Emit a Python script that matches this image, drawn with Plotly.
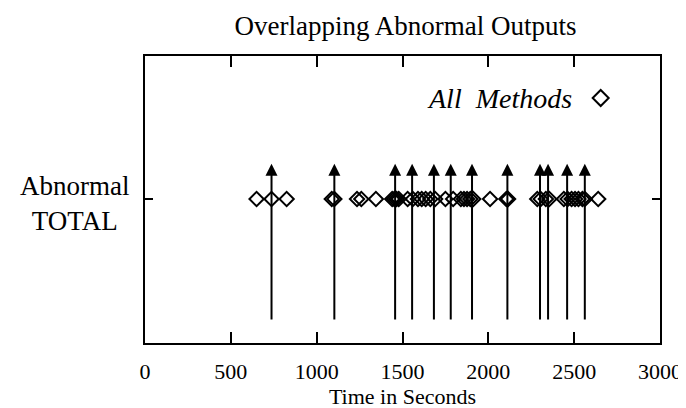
import plotly.graph_objects as go

# Data
diamond_times = [650, 737, 825, 1088, 1103, 1235, 1260, 1345,
                 1440, 1452, 1465, 1478, 1530, 1560, 1590, 1612, 1635, 1662, 1690,
                 1750, 1795, 1840, 1858, 1876, 1895, 1912, 2010, 2105, 2115,
                 2285, 2305, 2335, 2355, 2440, 2462, 2485, 2505, 2525, 2548, 2562, 2640]
diamond_level = 1
arrow_times = [737, 1103, 1457, 1556, 1683, 1781, 1905, 2111, 2301, 2348, 2459, 2562]
arrow_base = 0
arrow_tip = 1.29
x_ticks = [0, 500, 1000, 1500, 2000, 2500, 3000]
title_text = "Overlapping Abnormal Outputs"
x_title = "Time in Seconds"
y_label = "Abnormal<br>TOTAL"
legend_label = "All Methods"

FONT = "Liberation Serif"
L, R, T, B = 137, 28, 48, 73
W, H = 686, 408
PW, PH = W - L - R, H - T - B

fig = go.Figure()
fig.add_trace(go.Scatter(
    x=diamond_times, y=[diamond_level] * len(diamond_times),
    mode="markers",
    marker=dict(symbol="diamond-open", size=11, color="black", line=dict(width=2, color="black")),
    showlegend=False, hoverinfo="skip"))

for t in arrow_times:
    fig.add_annotation(x=t, y=arrow_tip, ax=t, ay=arrow_base, xref="x", yref="y",
                       axref="x", ayref="y", text="", showarrow=True,
                       arrowhead=2, arrowsize=1.2, arrowwidth=2, arrowcolor="black",
                       standoff=0, startstandoff=0)

# y-axis label
fig.add_annotation(x=(66 - L) / PW, y=diamond_level, xref="paper", yref="y", xanchor="center",
                   yshift=-4, text=y_label, showarrow=False, align="center",
                   font=dict(family=FONT, size=27, color="black"))

# legend text + key
fig.add_annotation(x=(571 - L) / PW, y=(H - B - 90) / PH, xref="paper", yref="paper",
                   xanchor="right", yanchor="middle",
                   text="<i>" + legend_label.replace(" ", "&#160;&#160;") + "</i>",
                   showarrow=False, font=dict(family=FONT, size=28, color="black"))
fig.add_shape(type="path", xref="paper", yref="paper",
              xsizemode="pixel", ysizemode="pixel",
              xanchor=(598 - L) / PW, yanchor=(H - B - 90) / PH,
              path="M -8 0 L 0 8 L 8 0 L 0 -8 Z",
              line=dict(color="black", width=2))

fig.update_layout(
    width=W, height=H,
    margin=dict(l=L, r=R, t=T, b=B),
    paper_bgcolor="white", plot_bgcolor="white",
    font=dict(family=FONT, size=22, color="black"),
    title=dict(text=title_text, x=(L + W - R) / 2 / W, xanchor="center",
               y=1 - 18 / H, yanchor="middle", font=dict(family=FONT, size=27)),
    xaxis=dict(range=[0, 3000], tickvals=x_ticks, ticks="inside", ticklen=11,
               tickwidth=2, tickcolor="black", showline=True, linewidth=2,
               linecolor="black", mirror="ticks", showgrid=False, zeroline=False,
               title=dict(text=x_title, standoff=0, font=dict(family=FONT, size=22)),
               ticklabelstandoff=8, tickfont=dict(family=FONT, size=22)),
    yaxis=dict(range=[-0.18, 2.172], tickvals=[diamond_level], ticktext=[""],
               ticks="inside", ticklen=8, tickwidth=2, tickcolor="black",
               showline=True, linewidth=2, linecolor="black", mirror="ticks",
               showgrid=False, zeroline=False),
)

fig.write_html("out.html")
